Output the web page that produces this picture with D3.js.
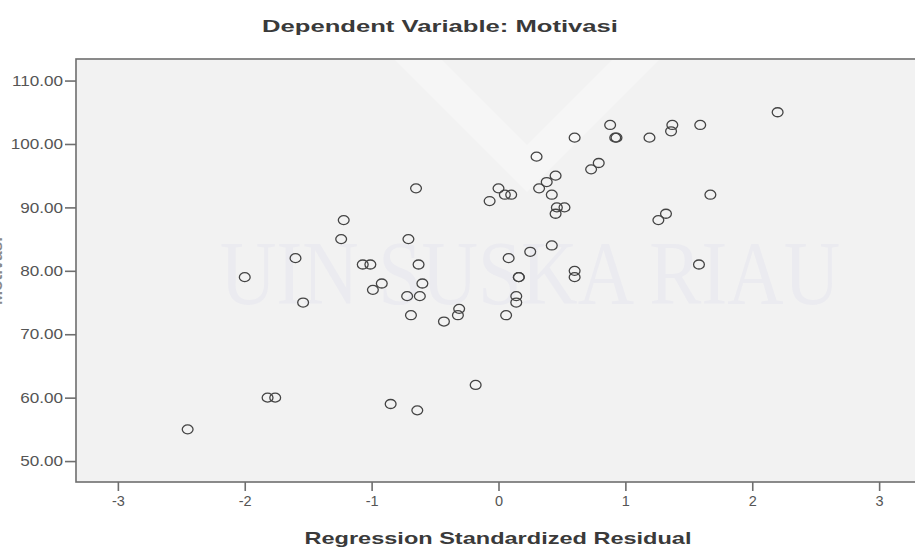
<!DOCTYPE html>
<html>
<head>
<meta charset="utf-8">
<script src="https://cdn.jsdelivr.net/npm/d3@7"></script>
<style>
  body { margin: 0; background: #fff; }
  svg { display: block; font-family: "Liberation Sans", Arial, sans-serif; }
</style>
</head>
<body>
<svg></svg>
<script>
// data (residual vs. Motivasi)
const residual = [-2.45, -2.00, -1.82, -1.76, -1.60, -1.54, -1.22, -1.24, -1.07, -1.01,
  -0.92, -0.99, -0.85, -0.72, -0.71, -0.69, -0.65, -0.64, -0.63, -0.62,
  -0.60, -0.43, -0.31, -0.32, -0.18, -0.07, 0.00, 0.05, 0.10, 0.06,
  0.08, 0.14, 0.14, 0.16, 0.16, 0.25, 0.30, 0.32, 0.38, 0.45,
  0.42, 0.46, 0.52, 0.45, 0.42, 0.60, 0.60, 0.60, 0.73, 0.79,
  0.88, 0.92, 0.93, 1.19, 1.37, 1.36, 1.59, 1.67, 1.32, 1.26,
  1.58, 2.20];
const motivasi = [55, 79, 60, 60, 82, 75, 88, 85, 81, 81,
  78, 77, 59, 76, 85, 73, 93, 58, 81, 76,
  78, 72, 74, 73, 62, 91, 93, 92, 92, 73,
  82, 76, 75, 79, 79, 83, 98, 93, 94, 95,
  92, 90, 90, 89, 84, 101, 80, 79, 96, 97,
  103, 101, 101, 101, 103, 102, 103, 92, 89, 88,
  81, 105];

const xTicks = [-3, -2, -1, 0, 1, 2, 3];
const yTicks = [50, 60, 70, 80, 90, 100, 110];
const chartTitle = "Dependent Variable: Motivasi";
const xTitle = "Regression Standardized Residual";
const yTitle = "Motivasi";

const width = 915, height = 552;
const svg = d3.select("svg").attr("width", width).attr("height", height);

const plot = { left: 76, top: 59, right: 921, bottom: 482 };

const x = d3.scaleLinear().domain([-3.33, 3.33]).range([plot.left, plot.right]);
const y = d3.scaleLinear().domain([46.7, 113.4]).range([plot.bottom, plot.top]);

// the picture is stretched a bit sideways, so widen the text too
function stretch(sel, k) {
  sel.each(function () {
    const w = this.getComputedTextLength();
    d3.select(this).attr("textLength", w * k).attr("lengthAdjust", "spacingAndGlyphs");
  });
}

// plot background
svg.append("rect")
    .attr("x", plot.left).attr("y", plot.top)
    .attr("width", plot.right - plot.left).attr("height", plot.bottom - plot.top)
    .attr("fill", "#f2f2f2");

// faint watermark
const wm = svg.append("g").attr("class", "watermark");
wm.append("polygon")
    .attr("points", "394,59 441,59 527,145 613,59 660,59 527,192")
    .attr("fill", "#f6f6f6");
wm.append("text")
    .attr("x", 220).attr("y", 304)
    .attr("font-family", "'Liberation Serif', 'DejaVu Serif', serif")
    .attr("font-size", 90)
    .attr("fill", "#ebebf0")
    .attr("textLength", 620).attr("lengthAdjust", "spacingAndGlyphs")
    .text("UIN SUSKA RIAU");

// points
svg.append("g")
  .selectAll("ellipse")
  .data(residual.map((r, i) => ({ r, m: motivasi[i] })))
  .join("ellipse")
    .attr("cx", d => x(d.r))
    .attr("cy", d => y(d.m))
    .attr("rx", 5.4)
    .attr("ry", 4.5)
    .attr("fill", "none")
    .attr("stroke", "#444")
    .attr("stroke-width", 1.3);

// frame
svg.append("rect")
    .attr("x", plot.left).attr("y", plot.top)
    .attr("width", plot.right - plot.left).attr("height", plot.bottom - plot.top)
    .attr("fill", "none")
    .attr("stroke", "#6e6e6e")
    .attr("stroke-width", 1.6);

// axes
const xAxis = svg.append("g")
    .attr("transform", `translate(0,${plot.bottom})`)
    .call(d3.axisBottom(x).tickValues(xTicks).tickFormat(d => String(d)).tickSize(9).tickPadding(5));
const yAxis = svg.append("g")
    .attr("transform", `translate(${plot.left},0)`)
    .call(d3.axisLeft(y).tickValues(yTicks).tickFormat(d3.format(".2f")).tickSize(11).tickPadding(2));

[xAxis, yAxis].forEach(ax => {
  ax.select(".domain").remove();
  ax.selectAll(".tick line").attr("stroke", "#6e6e6e").attr("stroke-width", 1.6);
  ax.selectAll(".tick text")
      .attr("fill", "#555")
      .attr("font-size", 14.5)
      .attr("font-family", "'Liberation Sans', Arial, sans-serif");
});
stretch(yAxis.selectAll(".tick text"), 1.18);

// titles
svg.append("text")
    .attr("x", 440).attr("y", 32)
    .attr("text-anchor", "middle")
    .attr("font-size", 17)
    .attr("font-weight", "bold")
    .attr("fill", "#3a3a3a")
    .attr("textLength", 356).attr("lengthAdjust", "spacingAndGlyphs")
    .text(chartTitle);

svg.append("text")
    .attr("x", 498).attr("y", 544)
    .attr("text-anchor", "middle")
    .attr("font-size", 17)
    .attr("font-weight", "bold")
    .attr("fill", "#3a3a3a")
    .attr("textLength", 387).attr("lengthAdjust", "spacingAndGlyphs")
    .text(xTitle);

// y title sits almost entirely past the left edge, as in the reference
svg.append("text")
    .attr("transform", "translate(2,271) rotate(-90)")
    .attr("text-anchor", "middle")
    .attr("font-size", 17)
    .attr("font-weight", "bold")
    .attr("fill", "#8a8a8a")
    .text(yTitle);
</script>
</body>
</html>
